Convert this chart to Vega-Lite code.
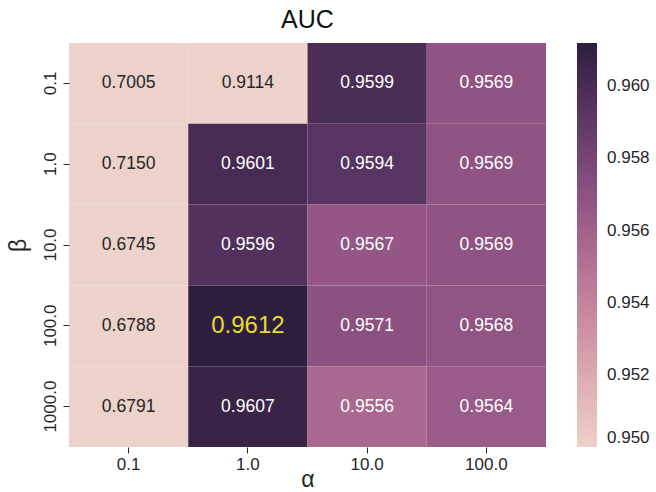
{
  "$schema": "https://vega.github.io/schema/vega-lite/v6.json",
  "width": 477,
  "height": 404,
  "autosize": {"type": "none"},
  "padding": {"left": 69, "top": 43, "right": 110, "bottom": 45},
  "background": "white",
  "config": {
    "font": "Liberation Sans",
    "view": {"stroke": null},
    "axis": {"domain": false, "grid": false, "labelFont": "Liberation Sans", "titleFont": "Liberation Sans", "labelColor": "#262626", "titleColor": "#262626", "tickColor": "#262626", "labelFontSize": 17, "titleFontSize": 23, "titleFontWeight": "normal", "tickSize": 6, "labelPadding": 3}
  },
  "title": {"text": "AUC", "fontSize": 25, "fontWeight": "normal", "font": "Liberation Sans", "color": "#111111", "offset": 10, "anchor": "middle"},
  "data": {
    "values": [
      {"alpha": "0.1", "beta": "0.1", "auc": 0.7005},
      {"alpha": "1.0", "beta": "0.1", "auc": 0.9114},
      {"alpha": "10.0", "beta": "0.1", "auc": 0.9599},
      {"alpha": "100.0", "beta": "0.1", "auc": 0.9569},
      {"alpha": "0.1", "beta": "1.0", "auc": 0.7150},
      {"alpha": "1.0", "beta": "1.0", "auc": 0.9601},
      {"alpha": "10.0", "beta": "1.0", "auc": 0.9594},
      {"alpha": "100.0", "beta": "1.0", "auc": 0.9569},
      {"alpha": "0.1", "beta": "10.0", "auc": 0.6745},
      {"alpha": "1.0", "beta": "10.0", "auc": 0.9596},
      {"alpha": "10.0", "beta": "10.0", "auc": 0.9567},
      {"alpha": "100.0", "beta": "10.0", "auc": 0.9569},
      {"alpha": "0.1", "beta": "100.0", "auc": 0.6788},
      {"alpha": "1.0", "beta": "100.0", "auc": 0.9612},
      {"alpha": "10.0", "beta": "100.0", "auc": 0.9571},
      {"alpha": "100.0", "beta": "100.0", "auc": 0.9568},
      {"alpha": "0.1", "beta": "1000.0", "auc": 0.6791},
      {"alpha": "1.0", "beta": "1000.0", "auc": 0.9607},
      {"alpha": "10.0", "beta": "1000.0", "auc": 0.9556},
      {"alpha": "100.0", "beta": "1000.0", "auc": 0.9564}
    ]
  },
  "encoding": {
    "x": {"field": "alpha", "type": "ordinal", "sort": ["0.1", "1.0", "10.0", "100.0"], "scale": {"paddingInner": 0, "paddingOuter": 0}, "axis": {"title": "α", "labelAngle": 0, "titleY": 32, "titleBaseline": "middle", "titlePadding": 0}},
    "y": {"field": "beta", "type": "ordinal", "sort": ["0.1", "1.0", "10.0", "100.0", "1000.0"], "scale": {"paddingInner": 0, "paddingOuter": 0}, "axis": {"title": "β", "labelAngle": -90, "labelPadding": 4, "titleAngle": -90, "titleX": -51, "titleBaseline": "middle", "titlePadding": 0}}
  },
  "layer": [
    {
      "mark": {"type": "rect", "strokeWidth": 0},
      "encoding": {
        "color": {
          "field": "auc",
          "type": "quantitative",
          "scale": {
            "domain": [0.95, 0.95224, 0.95448, 0.95672, 0.95896, 0.9612],
            "range": ["#edd1cb", "#daa4ac", "#bd7a98", "#935685", "#613969", "#2d1e3e"],
            "interpolate": "rgb",
            "clamp": true
          },
          "legend": {
            "title": null,
            "direction": "vertical",
            "gradientLength": 404,
            "gradientThickness": 20,
            "gradientStrokeWidth": 0,
            "values": [0.95, 0.952, 0.954, 0.956, 0.958, 0.96],
            "format": ".3f",
            "labelFontSize": 17,
            "labelColor": "#262626",
            "labelFont": "Liberation Sans",
            "labelOverlap": false,
            "labelBaseline": "middle",
            "labelOffset": 10,
            "offset": 31,
            "padding": 0
          }
        }
      }
    },
    {
      "mark": {"type": "text", "font": "Liberation Sans", "baseline": "middle", "align": "center"},
      "encoding": {
        "text": {"field": "auc", "type": "quantitative", "format": ".4f"},
        "color": {
          "condition": [
            {"test": "datum.auc >= 0.9612", "value": "#e6dc2a"},
            {"test": "datum.auc > 0.93", "value": "#ffffff"}
          ],
          "value": "#262626"
        },
        "size": {
          "condition": {"test": "datum.auc >= 0.9612", "value": 24},
          "value": 17.5
        }
      }
    }
  ]
}
